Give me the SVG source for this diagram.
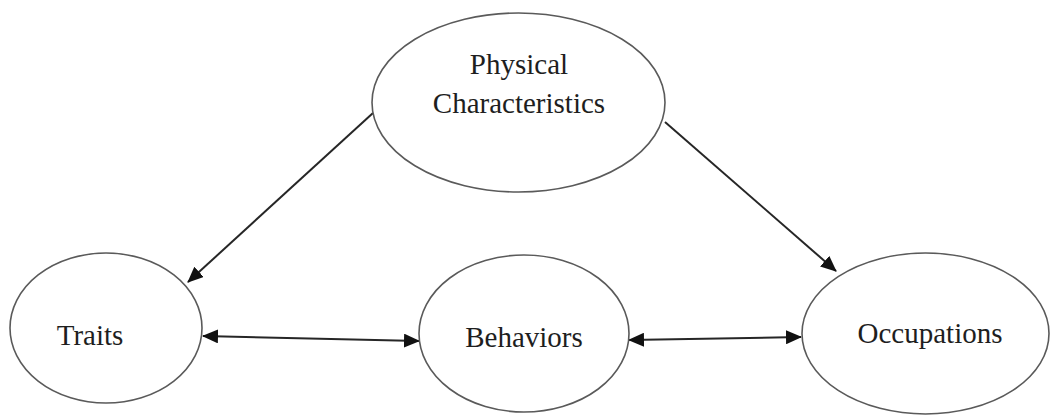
<svg xmlns="http://www.w3.org/2000/svg" width="1051" height="416" viewBox="0 0 1051 416">
  <style>
    .node { fill: #ffffff; stroke: #5a5a5a; stroke-width: 1.6; }
    .label { font-family: "Liberation Serif", "Times New Roman", serif; font-size: 29px; fill: #1e1e1e; text-anchor: middle; }
    .link { stroke: #262626; stroke-width: 2; fill: none; }
  </style>
  <defs>
    <!-- filled triangular head, tip at the end of the line -->
    <marker id="head" viewBox="0 0 16 14" refX="15" refY="7" markerWidth="16" markerHeight="14" markerUnits="userSpaceOnUse" orient="auto-start-reverse">
      <path d="M0,0 L16,7 L0,14 Z" fill="#111111"/>
    </marker>
  </defs>
  <rect width="1051" height="416" fill="#ffffff"/>

  <g id="connectors">
    <line class="link" x1="373" y1="113" x2="188" y2="282" marker-end="url(#head)"/>
    <line class="link" x1="665" y1="122" x2="836" y2="271" marker-end="url(#head)"/>
    <line class="link" x1="203" y1="336" x2="419" y2="341" marker-start="url(#head)" marker-end="url(#head)"/>
    <line class="link" x1="629" y1="340" x2="801" y2="337" marker-start="url(#head)" marker-end="url(#head)"/>
  </g>

  <g id="physical-characteristics">
    <ellipse class="node" cx="518.5" cy="102.5" rx="146.5" ry="89.5"/>
    <text class="label" x="519" y="74">Physical</text>
    <text class="label" x="519" y="113">Characteristics</text>
  </g>

  <g id="traits">
    <ellipse class="node" cx="106" cy="328" rx="96" ry="75"/>
    <text class="label" x="90" y="345">Traits</text>
  </g>

  <g id="behaviors">
    <ellipse class="node" cx="524" cy="333.5" rx="105" ry="78.5"/>
    <text class="label" x="524" y="347">Behaviors</text>
  </g>

  <g id="occupations">
    <ellipse class="node" cx="925.5" cy="333.5" rx="123.5" ry="80.5"/>
    <text class="label" x="930" y="343">Occupations</text>
  </g>
</svg>
